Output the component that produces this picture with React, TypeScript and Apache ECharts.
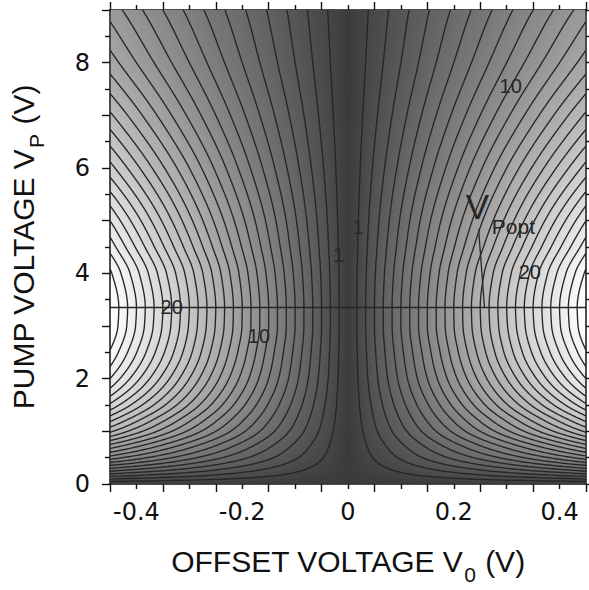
import React, { useEffect, useRef } from "react";
import * as echarts from "echarts";

// Sampled gain field: one row per pump voltage, one column per offset voltage.
const offsetColumns = [-0.45, -0.3, -0.15, 0, 0.15, 0.3, 0.45];
const pumpRows = [0, 0.25, 0.5, 0.75, 1, 1.25, 1.5, 2, 2.5, 3, 3.35, 4, 4.5, 5, 6, 7, 8, 9];
const gainGrid = [
  [0, 0, 0, 0, 0, 0, 0],
  [5.1, 3.4, 1.7, 0, 1.7, 3.4, 5.1],
  [9.5, 6.3, 3.2, 0, 3.2, 6.3, 9.5],
  [13.0, 8.6, 4.3, 0, 4.3, 8.6, 13.0],
  [16.2, 10.8, 5.4, 0, 5.4, 10.8, 16.2],
  [18.6, 12.4, 6.2, 0, 6.2, 12.4, 18.6],
  [20.8, 13.9, 6.9, 0, 6.9, 13.9, 20.8],
  [24.0, 16.0, 8.0, 0, 8.0, 16.0, 24.0],
  [25.9, 17.3, 8.6, 0, 8.6, 17.3, 25.9],
  [26.9, 17.9, 9.0, 0, 9.0, 17.9, 26.9],
  [27.0, 18.0, 9.0, 0, 9.0, 18.0, 27.0],
  [26.2, 17.5, 8.7, 0, 8.7, 17.5, 26.2],
  [24.6, 16.4, 8.2, 0, 8.2, 16.4, 24.6],
  [23.0, 15.3, 7.7, 0, 7.7, 15.3, 23.0],
  [19.4, 13.0, 6.5, 0, 6.5, 13.0, 19.4],
  [16.2, 10.8, 5.4, 0, 5.4, 10.8, 16.2],
  [13.5, 9.0, 4.5, 0, 4.5, 9.0, 13.5],
  [11.6, 7.7, 3.9, 0, 3.9, 7.7, 11.6],
];

const contourLevels = [1, 2, 3, 4, 5, 6, 7, 8, 9, 10, 11, 12, 13, 14, 15, 16, 17, 18, 19, 20, 21, 22, 23, 24, 25, 26];

// Inline contour labels: level, pump voltage where it sits, side of V0 = 0.
const contourLabelLevels = [20, 10, 1, 1, 10, 20];
const contourLabelPumps = [3.36, 2.81, 4.34, 4.88, 7.55, 4.03];
const contourLabelSides = [-1, -1, -1, 1, 1, 1];

// Optimum pump voltage and its annotation.
const optimumPump = 3.35;
const annotationTexts = ["V", "Popt"];
const annotationOffsets = [0.2445, 0.272];
const annotationPumps = [5.27, 4.88];
const annotationSizes = [35, 21];
const pointerOffsets = [0.247, 0.258];
const pointerPumps = [4.83, 3.36];

const xTickLabels = ["-0.4", "-0.2", "0", "0.2", "0.4"];
const yTickLabels = ["0", "2", "4", "6", "8"];

const X_MIN = -0.45;
const X_MAX = 0.45;
const Y_MIN = 0;
const Y_MAX = 9;

const INK = "#111";
const LINE = "#262626";
const TICK_FONT = "DejaVu Sans";
const TEXT_FONT = "Liberation Sans";

// Monotone cubic tangents along the pump axis for each column.
function pchipTangents(xs: number[], ys: number[]): number[] {
  const n = xs.length;
  const d: number[] = [];
  for (let i = 0; i < n - 1; i++) d.push((ys[i + 1] - ys[i]) / (xs[i + 1] - xs[i]));
  const m = new Array(n).fill(0);
  m[0] = d[0];
  m[n - 1] = d[n - 2];
  for (let i = 1; i < n - 1; i++) {
    if (d[i - 1] * d[i] <= 0) m[i] = 0;
    else {
      const h0 = xs[i] - xs[i - 1];
      const h1 = xs[i + 1] - xs[i];
      const w1 = 2 * h1 + h0;
      const w2 = h1 + 2 * h0;
      m[i] = (w1 + w2) / (w1 / d[i - 1] + w2 / d[i]);
    }
  }
  return m;
}

const columnTangents = offsetColumns.map((_, c) =>
  pchipTangents(pumpRows, gainGrid.map((row) => row[c]))
);

function rowValues(vp: number): number[] {
  let k = 0;
  while (k < pumpRows.length - 2 && vp > pumpRows[k + 1]) k++;
  const x0 = pumpRows[k];
  const h = pumpRows[k + 1] - x0;
  const t = Math.min(1, Math.max(0, (vp - x0) / h));
  const t2 = t * t;
  const t3 = t2 * t;
  const h00 = 2 * t3 - 3 * t2 + 1;
  const h10 = t3 - 2 * t2 + t;
  const h01 = -2 * t3 + 3 * t2;
  const h11 = t3 - t2;
  return offsetColumns.map((_, c) => {
    const m = columnTangents[c];
    return h00 * gainGrid[k][c] + h10 * h * m[k] + h01 * gainGrid[k + 1][c] + h11 * h * m[k + 1];
  });
}

function valueInRow(vals: number[], v0: number): number {
  const step = offsetColumns[1] - offsetColumns[0];
  let k = Math.floor((v0 - offsetColumns[0]) / step);
  k = Math.max(0, Math.min(offsetColumns.length - 2, k));
  const t = (v0 - offsetColumns[k]) / step;
  return vals[k] * (1 - t) + vals[k + 1] * t;
}

// Offset voltage where a level is crossed on one side of the row, or null.
const centerCol = offsetColumns.indexOf(0);
function crossing(vals: number[], level: number, side: number): number | null {
  const steps = offsetColumns.length - 1 - centerCol;
  for (let k = 0; k < steps; k++) {
    const ia = centerCol + side * k;
    const ib = centerCol + side * (k + 1);
    const a = vals[ia];
    const b = vals[ib];
    if (b > a && level >= a && level <= b) {
      const f = (level - a) / (b - a);
      return offsetColumns[ia] + (offsetColumns[ib] - offsetColumns[ia]) * f;
    }
  }
  return null;
}

function buildContours(): number[][][] {
  const N = 1200;
  const rows: number[][] = [];
  for (let r = 0; r <= N; r++) rows.push(rowValues(Y_MIN + ((Y_MAX - Y_MIN) * r) / N));
  const lines: number[][][] = [];
  for (const level of contourLevels) {
    for (const side of [-1, 1]) {
      const edgeIdx = side < 0 ? 0 : offsetColumns.length - 1;
      const edgeX = offsetColumns[edgeIdx];
      let cur: number[][] | null = null;
      for (let r = 0; r <= N; r++) {
        const vp = Y_MIN + ((Y_MAX - Y_MIN) * r) / N;
        const x = crossing(rows[r], level, side);
        if (x !== null) {
          if (!cur) {
            cur = [];
            if (r > 0) {
              const e0 = rows[r - 1][edgeIdx];
              const e1 = rows[r][edgeIdx];
              const vp0 = Y_MIN + ((Y_MAX - Y_MIN) * (r - 1)) / N;
              cur.push([edgeX, vp0 + ((level - e0) / (e1 - e0)) * (vp - vp0)]);
            }
          }
          cur.push([x, vp]);
        } else if (cur) {
          const e0 = rows[r - 1][edgeIdx];
          const e1 = rows[r][edgeIdx];
          const vp0 = Y_MIN + ((Y_MAX - Y_MIN) * (r - 1)) / N;
          cur.push([edgeX, vp0 + ((level - e0) / (e1 - e0)) * (vp - vp0)]);
          lines.push(cur);
          cur = null;
        }
      }
      if (cur) lines.push(cur);
    }
  }
  return lines;
}

function shade(g: number): number {
  const t = Math.max(0, Math.min(1, g / 27));
  return Math.round(58 + 197 * Math.pow(t, 0.85));
}

function buildShadingImage(): string {
  const W = 480;
  const H = 480;
  const canvas = document.createElement("canvas");
  canvas.width = W;
  canvas.height = H;
  const ctx = canvas.getContext("2d")!;
  const img = ctx.createImageData(W, H);
  for (let j = 0; j < H; j++) {
    const vp = Y_MAX - ((j + 0.5) * (Y_MAX - Y_MIN)) / H;
    const vals = rowValues(vp);
    for (let i = 0; i < W; i++) {
      const v0 = X_MIN + ((i + 0.5) * (X_MAX - X_MIN)) / W;
      const s = shade(valueInRow(vals, v0));
      const o = (j * W + i) * 4;
      img.data[o] = s;
      img.data[o + 1] = s;
      img.data[o + 2] = s;
      img.data[o + 3] = 255;
    }
  }
  ctx.putImageData(img, 0, 0);
  return canvas.toDataURL();
}

export default function App() {
  const ref = useRef<HTMLDivElement>(null);

  useEffect(() => {
    const el = ref.current;
    if (!el) return;
    const chart = echarts.init(el, undefined, { renderer: "svg" });

    const shadingUrl = buildShadingImage();
    const contours = buildContours();

    const labelPoints = contourLabelLevels.map((level, i) => {
      const vp = contourLabelPumps[i];
      const x = crossing(rowValues(vp), level, contourLabelSides[i]);
      return [x ?? 0, vp, level];
    });

    const tickLine = { color: INK, width: 1.4 };
    const frameLine = { show: true, onZero: false, lineStyle: { color: INK, width: 1.5 } };

    const xFrame = {
      type: "value" as const,
      min: X_MIN,
      max: X_MAX,
      interval: 0.1,
      splitLine: { show: false },
      axisLine: frameLine,
      axisTick: { show: true, inside: false, length: 8, lineStyle: tickLine },
      minorTick: { show: true, splitNumber: 2, length: 5, lineStyle: tickLine },
      axisLabel: { show: false },
    };
    const yFrame = {
      type: "value" as const,
      min: Y_MIN,
      max: Y_MAX,
      interval: 1,
      splitLine: { show: false },
      axisLine: frameLine,
      axisTick: { show: true, inside: false, length: 8, lineStyle: tickLine },
      minorTick: { show: true, splitNumber: 2, length: 5, lineStyle: tickLine },
      axisLabel: { show: false },
    };

    const titleRich = {
      m: { fontSize: 30, fontFamily: TEXT_FONT, color: INK, verticalAlign: "top" },
      s: { fontSize: 21, fontFamily: TEXT_FONT, color: INK, verticalAlign: "top", padding: [18, 1, 0, 1] },
    };

    const option: any = {
      animation: false,
      backgroundColor: "#ffffff",
      grid: { left: 110, right: 2.3, top: 10, bottom: 103, containLabel: false },
      xAxis: [
        {
          ...xFrame,
          position: "bottom",
          name: "{m|OFFSET VOLTAGE V}{s|0}{m| (V)}",
          nameLocation: "middle",
          nameGap: 62,
          nameTextStyle: { fontFamily: TEXT_FONT, color: INK, rich: titleRich },
        },
        { ...xFrame, position: "top" },
        {
          type: "value",
          min: X_MIN,
          max: X_MAX,
          interval: 0.05,
          position: "bottom",
          splitLine: { show: false },
          axisLine: { show: false, onZero: false },
          axisTick: { show: false },
          axisLabel: {
            show: true,
            margin: 16,
            fontFamily: TICK_FONT,
            fontSize: 24,
            color: INK,
            formatter: (v: number) => {
              const s = String(Math.round(v * 10) / 10);
              return Math.abs(Math.round(v * 100)) % 20 === 0 && xTickLabels.includes(s) ? s : "";
            },
          },
        },
      ],
      yAxis: [
        {
          ...yFrame,
          position: "left",
          axisLabel: {
            show: true,
            margin: 20,
            fontFamily: TICK_FONT,
            fontSize: 24,
            color: INK,
            formatter: (v: number) => {
              const s = String(Math.round(v));
              return yTickLabels.includes(s) ? s : "";
            },
          },
          name: "{m|PUMP VOLTAGE V}{s|P}{m| (V)}",
          nameLocation: "middle",
          nameGap: 63,
          nameRotate: 90,
          nameTextStyle: { fontFamily: TEXT_FONT, color: INK, rich: titleRich },
        },
        { ...yFrame, position: "right" },
      ],
      series: [
        {
          type: "custom",
          name: "shading",
          xAxisIndex: 0,
          yAxisIndex: 0,
          silent: true,
          z: 1,
          data: [[0, 0]],
          renderItem: (_p: any, api: any) => {
            const tl = api.coord([X_MIN, Y_MAX]);
            const br = api.coord([X_MAX, Y_MIN]);
            return {
              type: "image",
              style: { image: shadingUrl, x: tl[0], y: tl[1], width: br[0] - tl[0], height: br[1] - tl[1] },
            };
          },
        },
        {
          type: "custom",
          name: "contours",
          xAxisIndex: 0,
          yAxisIndex: 0,
          silent: true,
          clip: true,
          z: 2,
          data: contours.map(() => [0, 0]),
          renderItem: (p: any, api: any) => ({
            type: "polyline",
            shape: { points: contours[p.dataIndex].map((pt) => api.coord(pt)) },
            style: { stroke: LINE, lineWidth: 1.35, fill: null },
          }),
        },
        {
          type: "line",
          name: "optimum pump",
          xAxisIndex: 0,
          yAxisIndex: 0,
          z: 3,
          symbol: "none",
          silent: true,
          lineStyle: { color: LINE, width: 1.4 },
          data: [
            [X_MIN, optimumPump],
            [X_MAX, optimumPump],
          ],
        },
        {
          type: "line",
          name: "pointer",
          xAxisIndex: 0,
          yAxisIndex: 0,
          z: 3,
          symbol: "none",
          silent: true,
          lineStyle: { color: LINE, width: 1.3 },
          data: pointerOffsets.map((x, i) => [x, pointerPumps[i]]),
        },
        {
          type: "custom",
          name: "contour labels",
          xAxisIndex: 0,
          yAxisIndex: 0,
          silent: true,
          z: 4,
          data: labelPoints,
          renderItem: (p: any, api: any) => {
            const pt = labelPoints[p.dataIndex];
            const c = api.coord([pt[0], pt[1]]);
            return {
              type: "text",
              x: c[0],
              y: c[1],
              style: {
                text: String(pt[2]),
                fontFamily: TEXT_FONT,
                fontSize: 20,
                fill: "#262626",
                align: "center",
                verticalAlign: "middle",
              },
            };
          },
        },
        {
          type: "custom",
          name: "annotation",
          xAxisIndex: 0,
          yAxisIndex: 0,
          silent: true,
          z: 4,
          data: annotationTexts.map((_, i) => [annotationOffsets[i], annotationPumps[i]]),
          renderItem: (p: any, api: any) => {
            const i = p.dataIndex;
            const c = api.coord([annotationOffsets[i], annotationPumps[i]]);
            return {
              type: "text",
              x: c[0],
              y: c[1],
              style: {
                text: annotationTexts[i],
                fontFamily: TEXT_FONT,
                fontSize: annotationSizes[i],
                fill: "#262626",
                align: i === 0 ? "center" : "left",
                verticalAlign: "middle",
              },
            };
          },
        },
      ],
    };

    chart.setOption(option);
    return () => chart.dispose();
  }, []);

  return (
    <div
      ref={ref}
      style={{ position: "absolute", left: 0, top: 0, width: 589, height: 590, background: "#fff" }}
    />
  );
}
